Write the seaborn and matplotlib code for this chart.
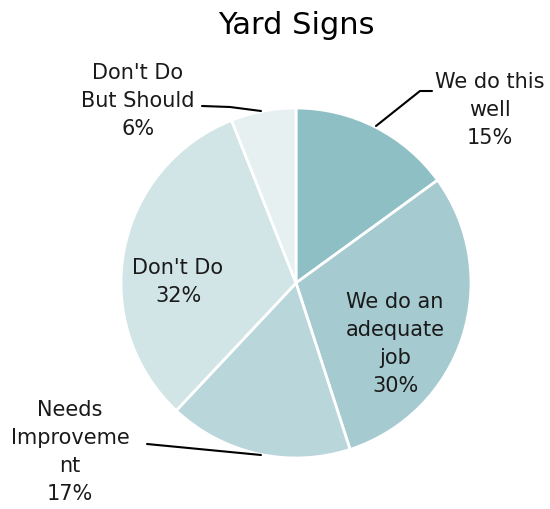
import matplotlib
matplotlib.use("Agg")
import matplotlib.pyplot as plt
import seaborn as sns

sns.set_theme(style="white")
plt.rcParams["font.family"] = ["DejaVu Sans"]

title = "Yard Signs"
categories = ["We do this\nwell", "We do an\nadequate\njob", "Needs\nImproveme\nnt",
              "Don't Do", "Don't Do\nBut Should"]
values = [15, 30, 17, 32, 6]
colors = ["#8ebfc4", "#a5cacf", "#b9d7db", "#d1e4e6", "#e6f0f1"]

W, H = 550, 510
fig = plt.figure(figsize=(W / 100, H / 100), dpi=100)
ax = fig.add_axes([0, 0, 1, 1])

cx, cy, r = 296, 226, 175
ax.pie(values, colors=colors, startangle=90, counterclock=False,
       center=(cx, cy), radius=r, frame=True,
       wedgeprops=dict(edgecolor="white", linewidth=2))
ax.set_xlim(0, W)
ax.set_ylim(0, H)
ax.set_aspect("equal")
ax.axis("off")

txt = dict(ha="center", va="center", fontsize=15, color="#1a1a1a", linespacing=1.5)
labels = [f"{c}\n{v}%" for c, v in zip(categories, values)]

# label positions (pixels, y up) and leader lines
ax.text(490, H - 110, labels[0], **txt)
ax.plot([376, 420, 432], [H - 127, H - 92, H - 92], color="black", lw=1.5)

ax.text(395, H - 344, labels[1], **txt)
ax.text(178, H - 282, labels[3], **txt)

ax.text(70, H - 452, labels[2], **txt)
ax.plot([147, 261], [H - 445, H - 456], color="black", lw=1.5)

ax.text(138, H - 101, labels[4], **txt)
ax.plot([202, 230, 261], [H - 107, H - 108, H - 112], color="black", lw=1.5)

ax.text(296, H - 25, title, ha="center", va="center", fontsize=22, color="black")

fig.savefig("out.png", dpi=100)
